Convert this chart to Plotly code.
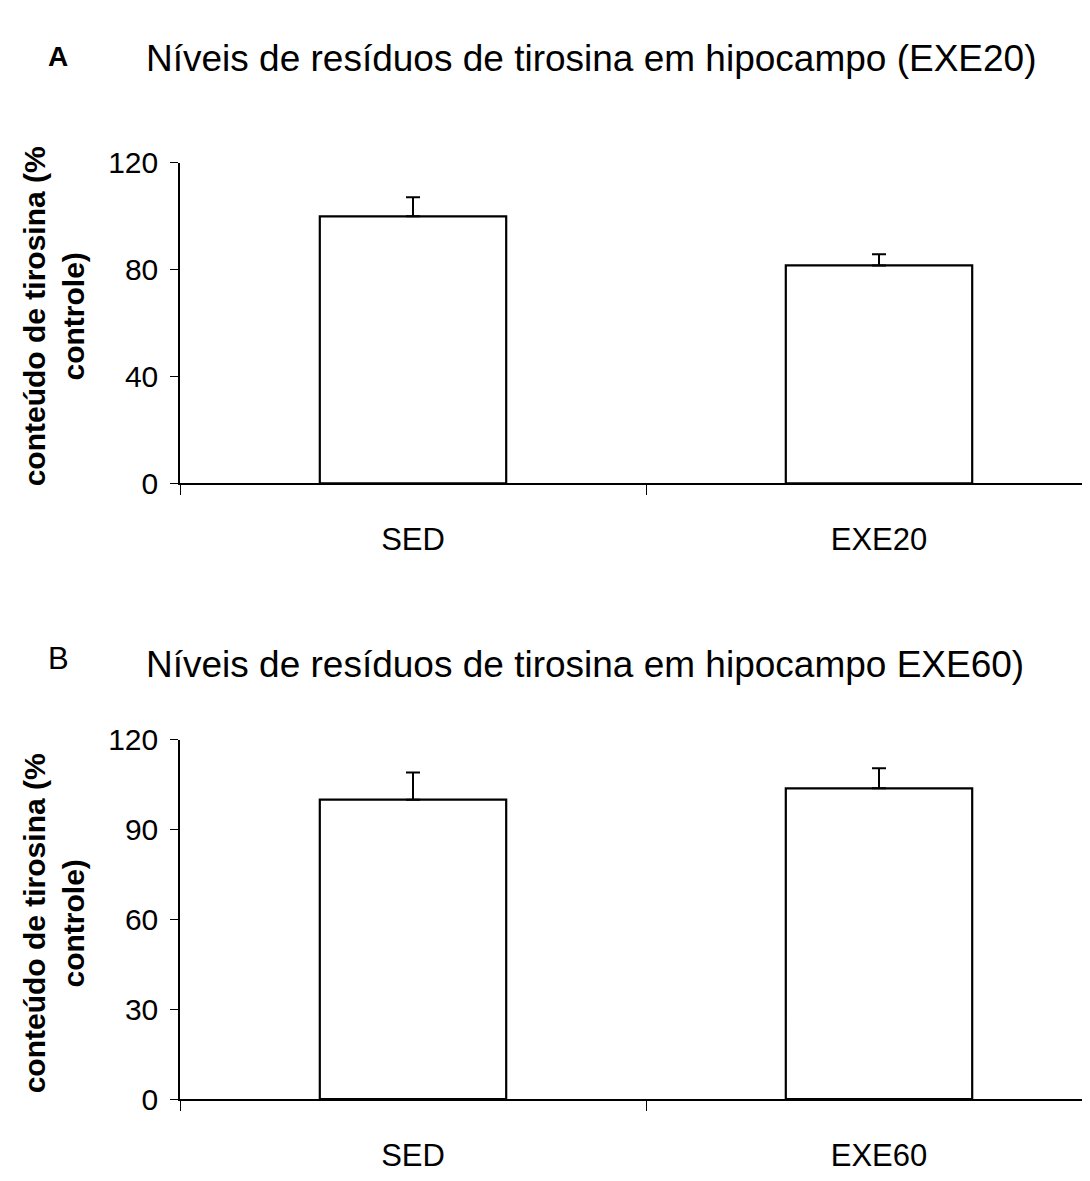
import plotly.graph_objects as go

# Panel A data
cats_a = ["SED", "EXE20"]
vals_a = [100, 81.6]
err_a = [7.1, 4.2]

# Panel B data
cats_b = ["SED", "EXE60"]
vals_b = [100, 103.8]
err_b = [9.1, 6.7]

ticks_a = [0, 40, 80, 120]
ticks_b = [0, 30, 60, 90, 120]

title_a = "Níveis de resíduos de tirosina em hipocampo (EXE20)"
title_b = "Níveis de resíduos de tirosina em hipocampo EXE60)"
ytitle = "<b>conteúdo de tirosina (%<br>controle)</b>"

W, H = 1090, 1181
ML = 172
CATW = 466.0
FONT = "Liberation Sans, Arial, sans-serif"

fig = go.Figure()

def bar(x, y, e, xa, ya):
    return go.Bar(
        x=x, y=y, xaxis=xa, yaxis=ya, width=0.4,
        marker=dict(color="white", line=dict(color="black", width=2.2)),
        error_y=dict(type="data", symmetric=False, array=e, arrayminus=[0] * len(e),
                     color="black", thickness=2, width=7),
        showlegend=False, hoverinfo="skip",
    )

fig.add_trace(bar(cats_a, vals_a, err_a, "x", "y"))
fig.add_trace(bar(cats_b, vals_b, err_b, "x2", "y2"))

def px2py(p):
    return 1 - p / H

xrng = [-0.5, -0.5 + (W - ML) / CATW]
common_x = dict(
    type="category", range=xrng, showline=True, linecolor="black", linewidth=1.5,
    ticks="outside", tickson="boundaries", ticklen=10, tickcolor="black", tickwidth=1.2,
    showgrid=False, zeroline=False, tickfont=dict(family=FONT, size=31, color="black"),
    ticklabelstandoff=28,
)
common_y = dict(
    range=[0, 120], showline=True, linecolor="black", linewidth=1.5,
    ticks="outside", ticklen=8, tickcolor="black", tickwidth=1.2,
    showgrid=False, zeroline=False, tickfont=dict(family=FONT, size=30, color="black"),
    ticklabelstandoff=6,
)

ya0, ya1 = 472, 142
yb0, yb1 = 1106, 736

fig.update_layout(
    width=W, height=H, margin=dict(l=ML, r=0, t=0, b=0),
    paper_bgcolor="white", plot_bgcolor="white", bargap=0.6,
    xaxis=dict(domain=[0, 1], anchor="y", **common_x),
    yaxis=dict(domain=[px2py(ya0), px2py(ya1)], anchor="x", tickvals=ticks_a, **common_y),
    xaxis2=dict(domain=[0, 1], anchor="y2", **common_x),
    yaxis2=dict(domain=[px2py(yb0), px2py(yb1)], anchor="x2", tickvals=ticks_b, **common_y),
)

def xp(p):
    return (p - ML) / (W - ML)

anns = [
    dict(text="<b>A</b>", x=xp(38), y=px2py(32), xanchor="left", yanchor="middle",
         font=dict(family=FONT, size=28, color="black")),
    dict(text=title_a, x=xp(136), y=px2py(34), xanchor="left", yanchor="middle",
         font=dict(family=FONT, size=37, color="black")),
    dict(text="B", x=xp(38), y=px2py(652), xanchor="left", yanchor="middle",
         font=dict(family=FONT, size=31, color="black")),
    dict(text=title_b, x=xp(136), y=px2py(658), xanchor="left", yanchor="middle",
         font=dict(family=FONT, size=37, color="black")),
    dict(text=ytitle, x=xp(46), y=px2py(300), textangle=-90, xanchor="center", yanchor="middle",
         font=dict(family=FONT, size=30, color="black")),
    dict(text=ytitle, x=xp(46), y=px2py(925), textangle=-90, xanchor="center", yanchor="middle",
         font=dict(family=FONT, size=30, color="black")),
]
for a in anns:
    a.update(xref="paper", yref="paper", showarrow=False)
fig.update_layout(annotations=anns)

fig.write_html("out.html")
